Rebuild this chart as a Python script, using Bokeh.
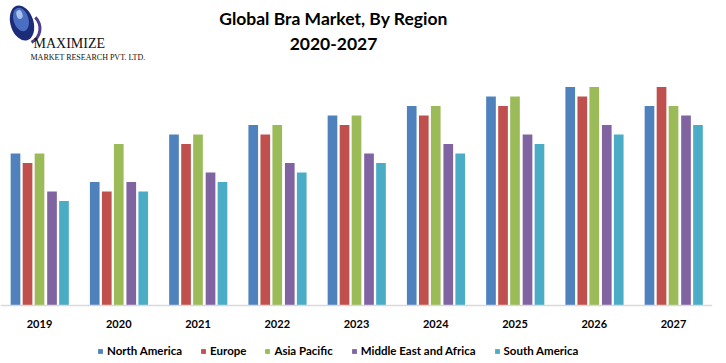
from bokeh.plotting import figure
from bokeh.models import Range1d, Legend, LegendItem, ColumnDataSource, Span
from bokeh.core.properties import value
from bokeh.embed import file_html
from bokeh.resources import INLINE

# ---- data ----
years = ["2019", "2020", "2021", "2022", "2023", "2024", "2025", "2026", "2027"]
regions = ["North America", "Europe", "Asia Pacific", "Middle East and Africa", "South America"]
north_america = [16, 13, 18, 19, 20, 21, 22, 23, 21]
europe = [15, 12, 17, 18, 19, 20, 21, 22, 23]
asia_pacific = [16, 17, 18, 19, 20, 21, 22, 23, 21]
middle_east_africa = [12, 13, 14, 15, 16, 17, 18, 19, 20]
south_america = [11, 12, 13, 14, 15, 16, 17, 18, 19]
series = [north_america, europe, asia_pacific, middle_east_africa, south_america]
colors = ["#4f81bd", "#c0504d", "#9bbb59", "#8064a2", "#4bacc6"]

title_lines = ["Global Bra Market, By Region", "2020-2027"]
logo_main = "MAXIMIZE"
logo_sub = "MARKET RESEARCH PVT. LTD."

# ---- layout (frame covers the whole figure; value 0 sits 305px from the top) ----
FW, FH, BASE, UNIT, GROUP = 712, 360, 305, 9.5, 79.25
p = figure(width=720, height=FH, output_backend="svg", toolbar_location=None,
           x_range=Range1d(-39 / GROUP, -39 / GROUP + FW / GROUP),
           y_range=Range1d(-(FH - BASE) / UNIT, BASE / UNIT),
           min_border_left=0, min_border_right=8, min_border_top=0, min_border_bottom=0)
p.outline_line_color = None
p.grid.visible = False
p.axis.visible = False
p.background_fill_color = "white"
p.border_fill_color = "white"

p.extra_x_ranges = {"px": Range1d(0, FW)}
p.extra_y_ranges = {"py": Range1d(FH, 0)}

# category axis line at value 0
p.add_layout(Span(location=0, dimension="width", line_color="#d9d9d9", line_width=1.5))

offsets = [-0.303, -0.151, 0.0, 0.158, 0.309]
bar_w = 0.122
items = []
for name, vals, col, off in zip(regions, series, colors, offsets):
    src = ColumnDataSource(dict(x=[i + off for i in range(len(years))], top=vals))
    r = p.vbar(x="x", top="top", width=bar_w, bottom=0, source=src,
               fill_color=col, line_color=None)
    items.append(LegendItem(label=name, renderers=[r]))

# category labels under each group
p.text(x=list(range(len(years))), y=[323] * len(years), text=years, y_range_name="py",
       text_font=value("Lato"), text_font_style="bold", text_font_size="11px",
       text_align="center", text_baseline="middle", text_color="#000000")

legend = Legend(items=items, orientation="horizontal", location=(97, 3),
                glyph_width=6, glyph_height=6, label_standoff=4, spacing=18,
                padding=0, margin=0, border_line_color=None, background_fill_alpha=0,
                label_text_font="Lato", label_text_font_style="bold",
                label_text_font_size="11.5px", label_height=12, label_text_color="#000000")
p.add_layout(legend, "center")

# ---- title ----
p.text(x=[333, 333], y=[18, 43], text=title_lines, x_range_name="px", y_range_name="py",
       text_font=value("Lato"), text_font_style="bold", text_font_size="17.5px",
       text_align="center", text_baseline="alphabetic", text_color="#000000")

# ---- logo ----
p.annular_wedge(x=[24], y=[28], inner_radius=14, outer_radius=17, start_angle=-1.1, end_angle=0.8,
                x_range_name="px", y_range_name="py", fill_color="#4b3d8f", line_color=None)
p.ellipse(x=[21.5], y=[22.5], width=23, height=36, angle=0.3, x_range_name="px", y_range_name="py",
          fill_color="#1c2c78", line_color=None)
p.ellipse(x=[20.5], y=[19], width=15, height=24, angle=0.3, x_range_name="px", y_range_name="py",
          fill_color="#4a6fc2", line_color=None)
p.ellipse(x=[19], y=[14], width=6, height=9, angle=0.3, x_range_name="px", y_range_name="py",
          fill_color="#a8c2ec", line_color=None)
p.text(x=[33], y=[43], text=[logo_main], x_range_name="px", y_range_name="py",
       text_font=value("Liberation Serif"), text_font_size="14px", text_color="#111111",
       text_align="left", text_baseline="alphabetic")
p.text(x=[30], y=[57], text=[logo_sub], x_range_name="px", y_range_name="py",
       text_font=value("Liberation Serif"), text_font_size="8px", text_color="#111111",
       text_align="left", text_baseline="alphabetic")

open("out.html", "w").write(file_html(p, INLINE))
